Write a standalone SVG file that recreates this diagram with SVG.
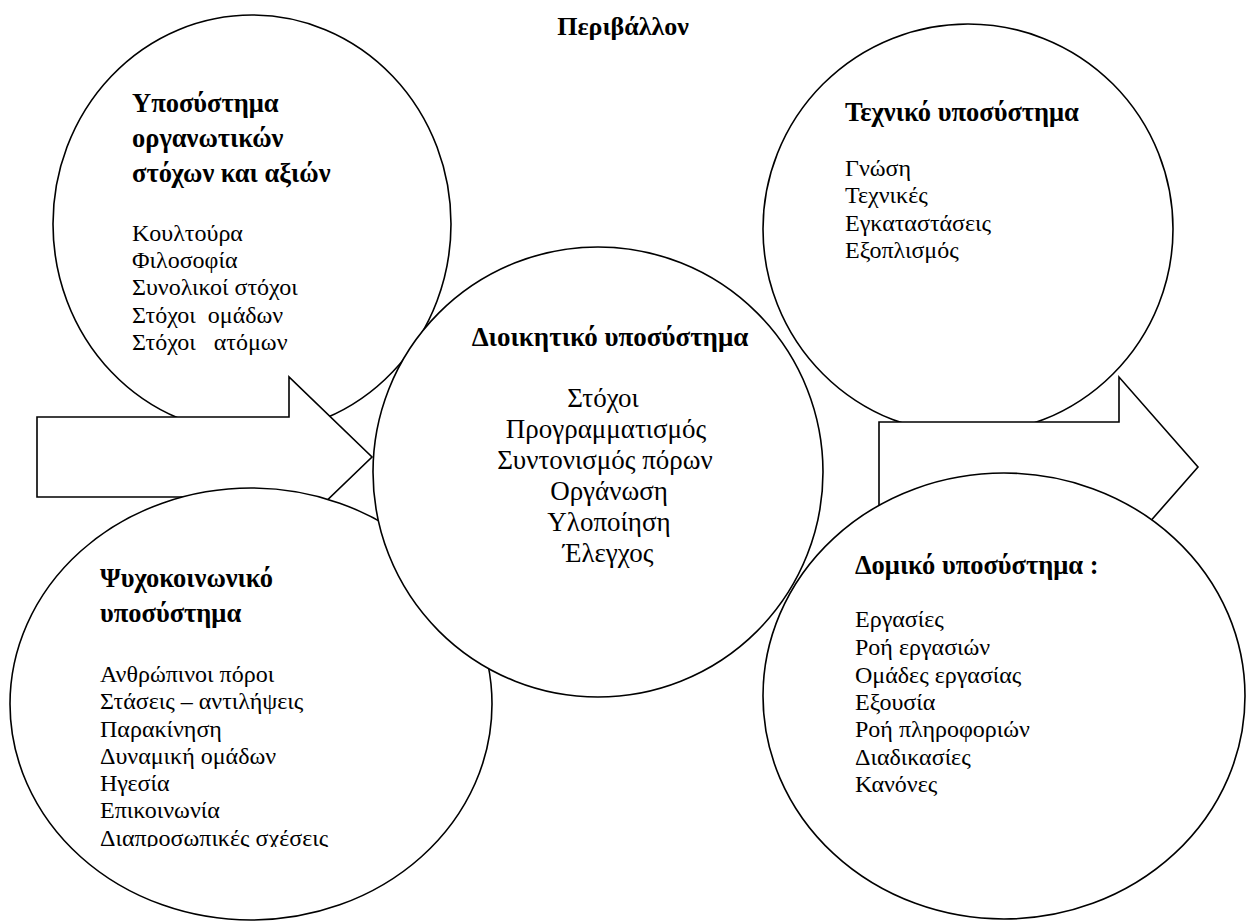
<svg xmlns="http://www.w3.org/2000/svg" width="1247" height="922" viewBox="0 0 1247 922" font-family="'Liberation Serif', 'Times New Roman', serif">
  <style>
    .shape { fill: #ffffff; stroke: #000000; stroke-width: 1.6; }
    text { fill: #000000; white-space: pre; }
    .head { font-weight: bold; font-size: 26.5px; }
    .item { font-size: 24px; }
    .chead { font-weight: bold; font-size: 27px; text-anchor: middle; }
    .citem { font-size: 27px; text-anchor: middle; }
    .title { font-weight: bold; font-size: 26px; text-anchor: middle; }
  </style>
  <defs>
    <clipPath id="clip-last-line">
      <rect x="0" y="820" width="500" height="27"/>
    </clipPath>
  </defs>

  <rect width="1247" height="922" fill="#ffffff"/>

  <text class="title" x="623" y="35">Περιβάλλον</text>

  <!-- Subsystem of organisational goals and values -->
  <g id="goals-values">
    <ellipse class="shape" cx="252" cy="224" rx="199" ry="209"/>
    <text class="head" x="132" y="112">Υποσύστημα</text>
    <text class="head" x="132" y="147">οργανωτικών</text>
    <text class="head" x="132" y="182">στόχων και αξιών</text>
    <text class="item" x="132" y="241">Κουλτούρα</text>
    <text class="item" x="132" y="268">Φιλοσοφία</text>
    <text class="item" x="132" y="295">Συνολικοί στόχοι</text>
    <text class="item" x="132" y="323">Στόχοι  ομάδων</text>
    <text class="item" x="132" y="350">Στόχοι   ατόμων</text>
  </g>

  <!-- Technical subsystem -->
  <g id="technical">
    <ellipse class="shape" cx="968" cy="229" rx="205" ry="205"/>
    <text class="head" x="845" y="121">Τεχνικό υποσύστημα</text>
    <text class="item" x="845" y="176">Γνώση</text>
    <text class="item" x="845" y="203">Τεχνικές</text>
    <text class="item" x="845" y="231">Εγκαταστάσεις</text>
    <text class="item" x="845" y="258">Εξοπλισμός</text>
  </g>

  <!-- Block arrows: input from and output to the environment -->
  <g id="connectors">
    <polygon id="arrow-in" class="shape" points="37,417 289,417 289,377 372,457 289,537 289,497 37,497"/>
    <polygon id="arrow-out" class="shape" points="879,422 1119,422 1119,377 1198,467 1119,557 1119,512 879,512"/>
  </g>

  <!-- Psychosocial subsystem -->
  <g id="psychosocial">
    <ellipse class="shape" cx="251" cy="704" rx="241" ry="216"/>
    <text class="head" x="100" y="587">Ψυχοκοινωνικό</text>
    <text class="head" x="100" y="622">υποσύστημα</text>
    <text class="item" x="100" y="682">Ανθρώπινοι πόροι</text>
    <text class="item" x="100" y="709">Στάσεις – αντιλήψεις</text>
    <text class="item" x="100" y="737">Παρακίνηση</text>
    <text class="item" x="100" y="764">Δυναμική ομάδων</text>
    <text class="item" x="100" y="791">Ηγεσία</text>
    <text class="item" x="100" y="818">Επικοινωνία</text>
    <text class="item" x="100" y="846" clip-path="url(#clip-last-line)">Διαπροσωπικές σχέσεις</text>
  </g>

  <!-- Structural subsystem -->
  <g id="structural">
    <ellipse class="shape" cx="1004" cy="696" rx="241" ry="223"/>
    <text class="head" x="855" y="574">Δομικό υποσύστημα :</text>
    <text class="item" x="855" y="627">Εργασίες</text>
    <text class="item" x="855" y="655">Ροή εργασιών</text>
    <text class="item" x="855" y="683">Ομάδες εργασίας</text>
    <text class="item" x="855" y="710">Εξουσία</text>
    <text class="item" x="855" y="737">Ροή πληροφοριών</text>
    <text class="item" x="855" y="765">Διαδικασίες</text>
    <text class="item" x="855" y="792">Κανόνες</text>
  </g>

  <!-- Managerial subsystem (centre) -->
  <g id="managerial">
    <circle class="shape" cx="598" cy="472" r="225"/>
    <text class="chead" x="610" y="346">Διοικητικό υποσύστημα</text>
    <text class="citem" x="603" y="407">Στόχοι</text>
    <text class="citem" x="606" y="438">Προγραμματισμός</text>
    <text class="citem" x="605" y="469">Συντονισμός πόρων</text>
    <text class="citem" x="609" y="500">Οργάνωση</text>
    <text class="citem" x="609" y="531">Υλοποίηση</text>
    <text class="citem" x="608" y="562">Έλεγχος</text>
  </g>
</svg>
